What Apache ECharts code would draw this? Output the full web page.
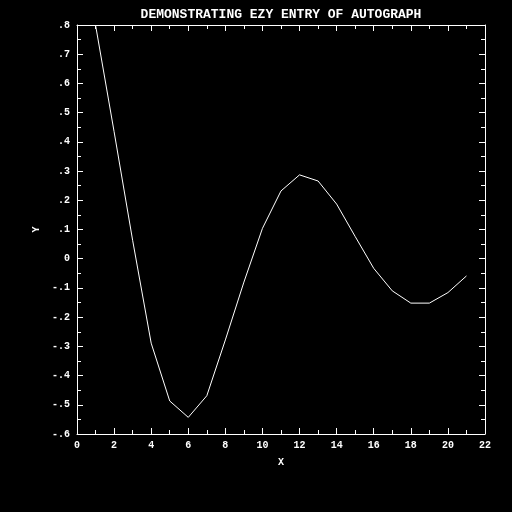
<!DOCTYPE html>
<html><head><meta charset="utf-8">
<script src="https://cdn.jsdelivr.net/npm/echarts@6/dist/echarts.min.js"></script>
<style>html,body{margin:0;padding:0;background:#000;}#c{width:512px;height:512px;}</style>
</head><body><div id="c"></div>
<script>
var titleText = 'DEMONSTRATING EZY ENTRY OF AUTOGRAPH';
var xName = 'X';
var yName = 'Y';
var xValues = [1,2,3,4,5,6,7,8,9,10,11,12,13,14,15,16,17,18,19,20,21];
var yValues = [0.80,0.435,0.063,-0.289,-0.487,-0.543,-0.469,-0.278,-0.08,0.104,0.232,0.287,0.266,0.187,0.076,-0.033,-0.110,-0.152,-0.152,-0.116,-0.059];
var xTickLabels = ['0','2','4','6','8','10','12','14','16','18','20','22'];
var yTickLabels = ['-.6','-.5','-.4','-.3','-.2','-.1','0','.1','.2','.3','.4','.5','.6','.7','.8'];

var font = '"Liberation Mono", monospace';
var data = xValues.map(function(x,i){return [x, yValues[i]];});
var axisCommon = {
  axisLine:{show:true,onZero:false,lineStyle:{color:'#fff',width:1}},
  axisTick:{show:true,inside:true,length:6,lineStyle:{color:'#fff',width:1}},
  minorTick:{show:true,splitNumber:2,length:4,lineStyle:{color:'#fff',width:1}},
  splitLine:{show:false},
  minorSplitLine:{show:false}
};
function merge(a,b){var o={};for(var k in a)o[k]=a[k];for(var k2 in b)o[k2]=b[k2];return o;}

var chart = echarts.init(document.getElementById('c'));
chart.setOption({
  backgroundColor:'#000',
  animation:false,
  title:{text:titleText,left:276,top:3,textAlign:'center',
    textStyle:{color:'#fff',fontFamily:font,fontSize:13,fontWeight:'bold'}},
  grid:{left:77,right:27,top:25,bottom:78,containLabel:false},
  xAxis:[
    merge(axisCommon,{type:'value',min:0,max:22,interval:2,position:'bottom',
      name:xName,nameLocation:'middle',nameGap:23,
      nameTextStyle:{color:'#fff',fontFamily:font,fontSize:10,fontWeight:'bold'},
      axisLabel:{color:'#fff',fontFamily:font,fontSize:10,fontWeight:'bold',margin:6,
        formatter:function(v){return xTickLabels[Math.round(v/2)];}}}),
    merge(axisCommon,{type:'value',min:0,max:22,interval:2,position:'top',axisLabel:{show:false}})
  ],
  yAxis:[
    merge(axisCommon,{type:'value',min:-0.6,max:0.8,interval:0.1,position:'left',
      name:yName,nameLocation:'middle',nameGap:26,nameRotate:90,
      nameTextStyle:{color:'#fff',fontFamily:font,fontSize:10,fontWeight:'bold'},
      axisLabel:{color:'#fff',fontFamily:font,fontSize:10,fontWeight:'bold',margin:7,
        formatter:function(v){return yTickLabels[Math.round((v+0.6)*10)];}}}),
    merge(axisCommon,{type:'value',min:-0.6,max:0.8,interval:0.1,position:'right',axisLabel:{show:false}})
  ],
  series:[{type:'line',data:data,xAxisIndex:0,yAxisIndex:0,showSymbol:false,symbol:'none',
    lineStyle:{color:'#fff',width:1},clip:true}]
});
</script></body></html>
